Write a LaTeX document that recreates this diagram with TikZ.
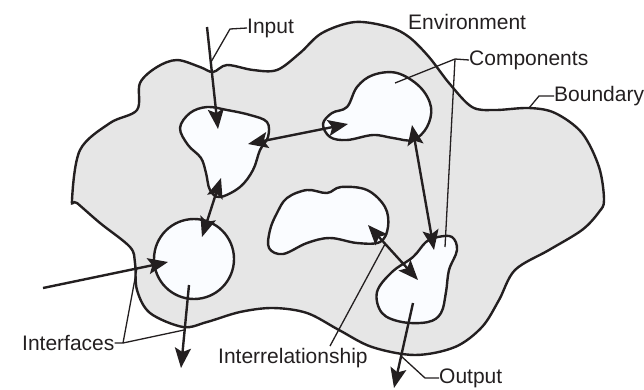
\documentclass[tikz,border=0pt]{standalone}
\usepackage{fontspec}
\setmainfont{Liberation Sans}
\usetikzlibrary{arrows.meta}
\definecolor{envgray}{RGB}{230,230,230}
\definecolor{compwhite}{RGB}{250,252,255}
\definecolor{ink}{RGB}{35,31,32}
\tikzset{
  blob/.style = {draw = ink, line width = 2.4pt, fill = compwhite},
  flow/.style = {draw = ink, line width = 2.4pt, -{Stealth[length = 20pt, width = 16pt, inset = 4pt]}},
  flows/.style = {flow, {Stealth[length = 20pt, width = 16pt, inset = 4pt]}-{Stealth[length = 20pt, width = 16pt, inset = 4pt]}},
  leader/.style = {draw = ink, line width = 1.3pt},
  lbl/.style = {inner sep = 0pt, anchor = west, text = ink, font = \fontsize{21}{25}\selectfont}
}
\newcommand{\myBlob}[1]{
\draw[blob] plot[smooth cycle, tension = 0.6] coordinates {#1};
}

\begin{document}
\begin{tikzpicture}[x = 1pt, y = -1pt]
	\useasboundingbox (0,0) rectangle (644,389);

	% system boundary
	\draw[blob, fill = envgray] plot[smooth cycle, tension = 0.55] coordinates {
		(72,200) (80,150) (110,123) (137,110) (140,83) (157,67) (177,60) (200,67)
		(213,72) (227,65) (253,70) (277,70) (300,53) (322,33) (355,22) (389,27)
		(409,37) (429,57) (449,83) (472,107) (495,110) (529,108) (555,113) (582,133)
		(599,167) (604,200) (599,212) (582,230) (549,250) (515,270) (499,300) (482,327)
		(455,347) (415,355) (372,347) (339,330) (307,313) (273,308) (240,312) (207,322)
		(183,327) (150,313) (137,290) (135,263) (130,247) (100,223) (77,203)};

	% components
	\myBlob{(180,128) (190,113) (207,107) (227,110) (250,115) (267,122) (268,137)
		(260,150) (253,170) (240,187) (220,197) (210,190) (206,173) (201,158) (188,145)}
	\myBlob{(323,124) (332,113) (347,107) (357,87) (373,75) (397,73) (420,87) (431,107)
		(427,127) (413,140) (393,138) (373,135) (347,140) (330,137)}
	\draw[blob] (194,259) circle (40);
	\myBlob{(269,248) (270,230) (277,213) (287,198) (307,190) (327,193) (341,187)
		(367,190) (385,207) (388,227) (380,242) (357,243) (330,238) (307,243) (283,254)}
	\myBlob{(377,292) (392,272) (413,257) (426,242) (438,237) (452,237) (457,250)
		(449,270) (446,292) (441,313) (428,322) (402,322) (382,313)}

	% arrow ends
	\coordinate (I) at (207,27);   \coordinate (Ia) at (218,129);
	\coordinate (AB) at (248,144); \coordinate (BA) at (348,124);
	\coordinate (AC) at (221,178); \coordinate (CA) at (202,237);
	\coordinate (L) at (43,288);   \coordinate (Lc) at (168,262);
	\coordinate (C) at (189,285);  \coordinate (Co) at (181,368);
	\coordinate (BE) at (412,125); \coordinate (EB) at (434,250);
	\coordinate (DE) at (368,225); \coordinate (ED) at (418,280);
	\coordinate (E) at (413,303);  \coordinate (Eo) at (394,388);

	\draw[flow] (I) -- (Ia);
	\draw[flow] (L) -- (Lc);
	\draw[flow] (C) -- (Co);
	\draw[flow] (E) -- (Eo);
	\draw[flows] (AB) -- (BA);
	\draw[flows] (AC) -- (CA);
	\draw[flows] (BE) -- (EB);
	\draw[flows] (DE) -- (ED);

	% labels
	\node[lbl] (input) at (247,28) {Input};
	\node[lbl] (env) at (408,22) {Environment};
	\node[lbl] (comp) at (469,60) {Components};
	\node[lbl] (bound) at (554,96) {Boundary};
	\node[lbl] (intf) at (22,343) {Interfaces};
	\node[lbl] (irel) at (218,358) {Interrelationship};
	\node[lbl] (out) at (439,378) {Output};

	% leaders
	\coordinate (Ik) at (230,29);  \coordinate (Ip) at (211,62);
	\coordinate (Ck) at (455,59);  \coordinate (Cb) at (395,83);  \coordinate (Ce) at (445,247);
	\coordinate (Bk) at (539,96);  \coordinate (Bp) at (529,108);
	\coordinate (Fk) at (123,343); \coordinate (Fl) at (137,268); \coordinate (Fc) at (184,330);
	\coordinate (Rk) at (330,346); \coordinate (Rp) at (385,244);
	\coordinate (Ok) at (425,378); \coordinate (Op) at (401,356);

	\draw[leader] (input.west) -- (Ik) -- (Ip);
	\draw[leader] (comp.west) -- (Ck) -- (Cb) (Ck) -- (Ce);
	\draw[leader] (bound.west) -- (Bk) -- (Bp);
	\draw[leader] (intf.east) -- (Fk) -- (Fl) (Fk) -- (Fc);
	\draw[leader] (Rk) -- (Rp);
	\draw[leader] (out.west) -- (Ok) -- (Op);
\end{tikzpicture}
\end{document}
